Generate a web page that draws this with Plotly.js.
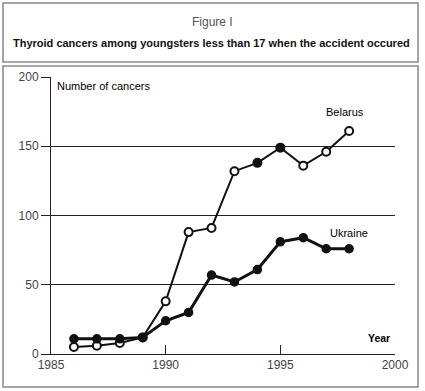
<!DOCTYPE html>
<html>
<head>
<meta charset="utf-8">
<script src="https://cdn.plot.ly/plotly-3.0.1.min.js"></script>
<style>html,body{margin:0;padding:0;background:#fff;}#chart{width:425px;height:391px;}</style>
</head>
<body>
<div id="chart"></div>
<script>
const years = [1986, 1987, 1988, 1989, 1990, 1991, 1992, 1993, 1994, 1995, 1996, 1997, 1998];
const belarus = [5, 6, 8, 12, 38, 88, 91, 132, 138, 149, 136, 146, 161];
const ukraine = [11, 11, 11, 12, 24, 30, 57, 52, 61, 81, 84, 76, 76];
const belarusFilled = [false, false, false, false, false, false, false, false, true, true, false, false, false];
const xTicks = [1985, 1990, 1995, 2000];
const yTicks = [0, 50, 100, 150, 200];
const figureLabel = "Figure I";
const subtitle = "Thyroid cancers among youngsters less than 17 when the accident occured";
const yLabel = "Number of cancers";
const xLabel = "Year";
const seriesNames = ["Belarus", "Ukraine"];

const W = 425, H = 391;
const L = 51, R = 30, T = 77, B = 37;
const pw = W - L - R, ph = H - T - B;
const px = v => (v - L) / pw;
const py = v => (H - B - v) / ph;

const font = "Liberation Sans, Arial, sans-serif";

const traces = [
  {
    x: years, y: belarus, name: seriesNames[0], type: "scatter", mode: "lines+markers",
    line: {color: "#111", width: 2},
    marker: {size: 8, color: belarusFilled.map(f => f ? "#111" : "#fff"), line: {color: "#111", width: 2}},
    cliponaxis: false
  },
  {
    x: years, y: ukraine, name: seriesNames[1], type: "scatter", mode: "lines+markers",
    line: {color: "#111", width: 3},
    marker: {size: 8, color: "#111", line: {color: "#111", width: 1.5}},
    cliponaxis: false
  }
];

const layout = {
  width: W, height: H,
  margin: {l: L, r: R, t: T, b: B, pad: 0},
  paper_bgcolor: "#fff", plot_bgcolor: "#fff",
  showlegend: false,
  font: {family: font, size: 12, color: "#444"},
  xaxis: {
    range: [1985, 2000], tickvals: xTicks, ticktext: xTicks.map(String),
    ticks: "inside", ticklen: 9, tickcolor: "#222", tickwidth: 1,
    showline: true, linecolor: "#222", linewidth: 1,
    showgrid: false, zeroline: false, fixedrange: true,
    tickfont: {family: font, size: 12, color: "#444"}
  },
  yaxis: {
    range: [0, 200], tickvals: yTicks, ticktext: yTicks.map(String),
    ticks: "outside", ticklen: 9, tickcolor: "#222", tickwidth: 1,
    showline: true, linecolor: "#222", linewidth: 1,
    showgrid: true, gridcolor: "#222", gridwidth: 1,
    zeroline: false, fixedrange: true,
    tickfont: {family: font, size: 12, color: "#444"}
  },
  shapes: [
    {type: "rect", xref: "paper", yref: "paper", x0: px(3), x1: px(418), y0: py(62), y1: py(3),
     line: {color: "#888", width: 1.5}, fillcolor: "rgba(0,0,0,0)"},
    {type: "rect", xref: "paper", yref: "paper", x0: px(3), x1: px(418), y0: py(387), y1: py(66),
     line: {color: "#888", width: 1.5}, fillcolor: "rgba(0,0,0,0)"}
  ],
  annotations: [
    {xref: "paper", yref: "paper", x: px(212), y: py(22), text: figureLabel, showarrow: false,
     xanchor: "center", yanchor: "middle", font: {family: font, size: 12, color: "#555"}},
    {xref: "paper", yref: "paper", x: px(211), y: py(43), text: "<b>" + subtitle + "</b>", showarrow: false,
     xanchor: "center", yanchor: "middle", font: {family: font, size: 11, color: "#111"}},
    {xref: "paper", yref: "paper", x: px(55), y: py(86), text: yLabel, showarrow: false,
     xanchor: "left", yanchor: "middle", font: {family: font, size: 11, color: "#000"}},
    {xref: "paper", yref: "paper", x: px(345), y: py(112), text: seriesNames[0], showarrow: false,
     xanchor: "center", yanchor: "middle", font: {family: font, size: 11, color: "#000"}},
    {xref: "paper", yref: "paper", x: px(349), y: py(233), text: seriesNames[1], showarrow: false,
     xanchor: "center", yanchor: "middle", font: {family: font, size: 11, color: "#000"}},
    {xref: "paper", yref: "paper", x: px(379), y: py(338), text: "<b>" + xLabel + "</b>", showarrow: false,
     xanchor: "center", yanchor: "middle", font: {family: font, size: 10.5, color: "#000"}}
  ]
};

Plotly.newPlot("chart", traces, layout, {staticPlot: true, displayModeBar: false});
</script>
</body>
</html>
